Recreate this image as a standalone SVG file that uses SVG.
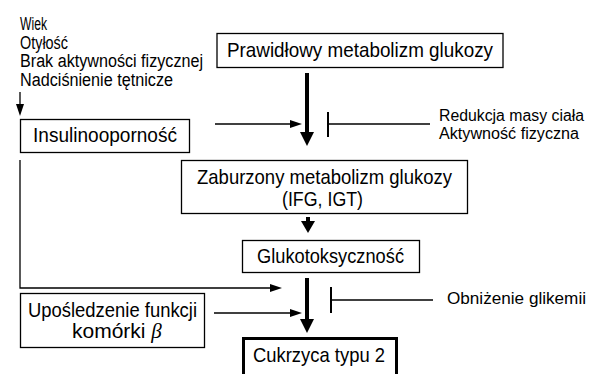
<svg xmlns="http://www.w3.org/2000/svg" width="589" height="374" viewBox="0 0 589 374">
<style>
text{font-family:"Liberation Sans Narrow","Liberation Sans",Arial,sans-serif;fill:#000}
.lbl{font-size:18px}
.rl{font-size:16px}
.big{font-size:21px}
.box{fill:#fff;stroke:#000;stroke-width:1.3}
.thin{fill:none;stroke:#000;stroke-width:1.3}
.thick{fill:none;stroke:#000;stroke-width:4}
.head{fill:#000;stroke:none}
</style>
<rect width="589" height="374" fill="#fff"/>
<g id="factors">
<text class="lbl" x="20" y="30" textLength="27" lengthAdjust="spacingAndGlyphs">Wiek</text>
<text class="lbl" x="20" y="48.5" textLength="48" lengthAdjust="spacingAndGlyphs">Otyłość</text>
<text class="lbl" x="20" y="67" textLength="183" lengthAdjust="spacingAndGlyphs">Brak aktywności fizycznej</text>
<text class="lbl" x="20" y="85.5" textLength="153" lengthAdjust="spacingAndGlyphs">Nadciśnienie tętnicze</text>
</g>
<g id="prawidlowy">
<rect class="box" x="217" y="33.5" width="286" height="34"/>
<text class="big" x="227" y="57" textLength="266" lengthAdjust="spacingAndGlyphs">Prawidłowy metabolizm glukozy</text>
</g>
<g id="insulinoopornosc">
<rect class="box" x="20.5" y="119.5" width="169" height="33"/>
<text class="big" x="33" y="142" textLength="144" lengthAdjust="spacingAndGlyphs">Insulinooporność</text>
</g>
<g id="redukcja">
<text class="rl" x="439" y="121" textLength="145" lengthAdjust="spacingAndGlyphs">Redukcja masy ciała</text>
<text class="rl" x="439" y="139" textLength="140" lengthAdjust="spacingAndGlyphs">Aktywność fizyczna</text>
</g>
<g id="zaburzony">
<rect class="box" x="181.5" y="160.5" width="286" height="53"/>
<text class="big" x="197" y="184" textLength="255" lengthAdjust="spacingAndGlyphs">Zaburzony metabolizm glukozy</text>
<text class="big" x="282" y="206" textLength="81" lengthAdjust="spacingAndGlyphs">(IFG, IGT)</text>
</g>
<g id="glukotoksycznosc">
<rect class="box" x="242.5" y="240.5" width="177" height="32"/>
<text class="big" x="257" y="263" textLength="147" lengthAdjust="spacingAndGlyphs">Glukotoksyczność</text>
</g>
<g id="obnizenie">
<text class="rl" x="447" y="304" textLength="139" lengthAdjust="spacingAndGlyphs">Obniżenie glikemii</text>
</g>
<g id="uposledzenie">
<rect class="box" x="20.5" y="293.5" width="184" height="54"/>
<text class="big" x="28" y="317" textLength="169" lengthAdjust="spacingAndGlyphs">Upośledzenie funkcji</text>
<text class="big" x="72" y="338">komórki <tspan style="font-family:'Liberation Serif',serif;font-style:italic">β</tspan></text>
</g>
<g id="cukrzyca">
<rect x="243.5" y="338.5" width="153" height="40" fill="#fff" stroke="#000" stroke-width="3"/>
<text class="big" x="253" y="362" textLength="132" lengthAdjust="spacingAndGlyphs">Cukrzyca typu 2</text>
</g>
<g id="connectors">
<line class="thin" x1="20" y1="92" x2="20" y2="105"/>
<polygon class="head" points="16,104 24,104 20,116"/>
<polyline class="thin" points="20,160 20,288 271,288"/>
<polygon class="head" points="270,284 282,288 270,292"/>
<line class="thin" x1="215" y1="124" x2="291" y2="124"/>
<polygon class="head" points="290,120 302,124 290,128"/>
<line class="thick" x1="307" y1="73" x2="307" y2="134"/>
<polygon class="head" points="300,132 314,132 307,146"/>
<line class="thin" x1="328" y1="112" x2="328" y2="137" style="stroke-width:2"/>
<line class="thin" x1="328" y1="124" x2="430" y2="124" style="stroke-width:1.6"/>
<line class="thick" x1="308" y1="217" x2="308" y2="223"/>
<polygon class="head" points="301,221 315,221 308,233"/>
<line class="thick" x1="307" y1="278" x2="307" y2="321"/>
<polygon class="head" points="300,319 314,319 307,333"/>
<line class="thin" x1="214" y1="313" x2="291" y2="313"/>
<polygon class="head" points="290,309 302,313 290,317"/>
<line class="thin" x1="331" y1="287" x2="331" y2="313" style="stroke-width:2"/>
<line class="thin" x1="331" y1="300" x2="433" y2="300" style="stroke-width:1.6"/>
</g>
</svg>
